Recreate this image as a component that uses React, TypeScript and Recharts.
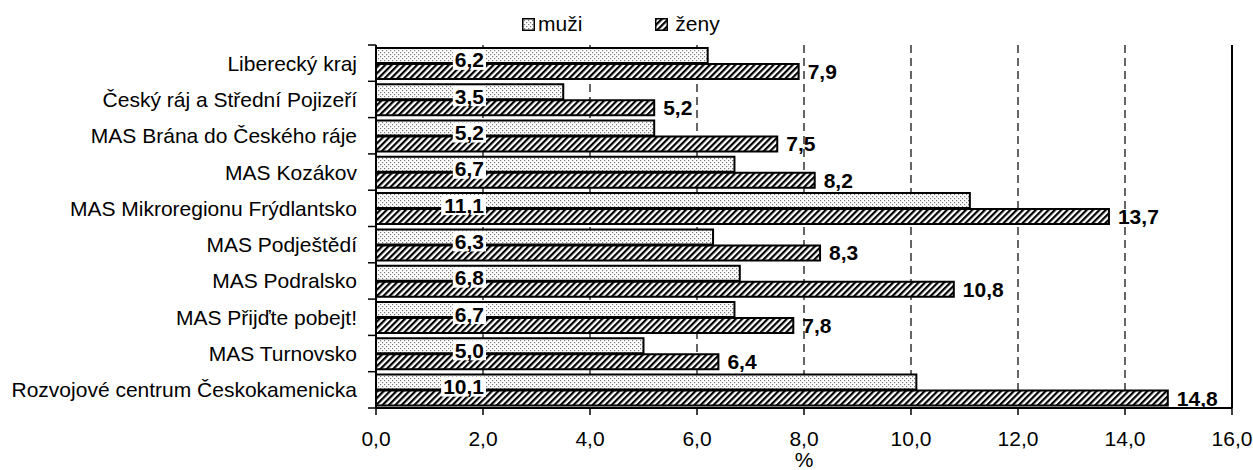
import React from "react";
import {
  BarChart,
  Bar,
  XAxis,
  YAxis,
  CartesianGrid,
  ReferenceLine,
  LabelList,
  Label,
} from "recharts";

const categories = [
  "Liberecký kraj",
  "Český ráj a Střední Pojizeří ",
  "MAS Brána do Českého ráje",
  "MAS Kozákov",
  "MAS Mikroregionu Frýdlantsko",
  "MAS Podještědí",
  "MAS Podralsko",
  "MAS Přijďte pobejt!",
  "MAS Turnovsko",
  "Rozvojové centrum Českokamenicka",
];
const muzi = [6.2, 3.5, 5.2, 6.7, 11.1, 6.3, 6.8, 6.7, 5.0, 10.1];
const zeny = [7.9, 5.2, 7.5, 8.2, 13.7, 8.3, 10.8, 7.8, 6.4, 14.8];
const xTicks = [0, 2, 4, 6, 8, 10, 12, 14, 16];
const seriesNames = ["muži", "ženy"];

const data = categories.map((name, i) => ({ name, muzi: muzi[i], zeny: zeny[i] }));

const FONT = "'Liberation Sans', Arial, sans-serif";
const FS = 21;
const fmt = (v: number) => v.toFixed(1).replace(".", ",");

const CategoryTick = (props: any) => {
  const { x, y, payload, index, visibleTicksCount } = props;
  const off = payload && payload.offset ? payload.offset : 0;
  const isLast = index === (visibleTicksCount ?? categories.length) - 1;
  return (
    <g>
      <line x1={x + 11} x2={x + 19} y1={y - off} y2={y - off} stroke="#000" strokeWidth={1.5} />
      {isLast && (
        <line x1={x + 11} x2={x + 19} y1={y + off} y2={y + off} stroke="#000" strokeWidth={1.5} />
      )}
      <text
        x={x}
        y={y}
        textAnchor="end"
        dominantBaseline="central"
        fontFamily={FONT}
        fontSize={FS}
        fill="#000"
      >
        {payload.value}
      </text>
    </g>
  );
};

const MuziLabel = (props: any) => {
  const { x, y, height, value } = props;
  const s = fmt(Number(value));
  let em = 0;
  for (const ch of s) em += ch === "," ? 0.278 : 0.556;
  const w = em * FS + 4;
  const right = x + 108;
  const cy = y + height / 2 + 4.5;
  return (
    <g>
      <rect x={right - w + 2} y={cy - 10} width={w} height={20} fill="#fff" />
      <text
        x={right}
        y={cy}
        textAnchor="end"
        dominantBaseline="central"
        fontFamily={FONT}
        fontWeight="bold"
        fontSize={FS}
        fill="#000"
      >
        {s}
      </text>
    </g>
  );
};

const PatternDefs = ({ prefix }: { prefix: string }) => (
  <defs>
    <pattern id={prefix + "dots"} width="4" height="4" patternUnits="userSpaceOnUse">
      <rect width="4" height="4" fill="#fff" />
      <rect x="0" y="0" width="1.2" height="1.2" fill="#7a7a7a" />
      <rect x="2" y="2" width="1.2" height="1.2" fill="#7a7a7a" />
    </pattern>
    <pattern
      id={prefix + "hatch"}
      width="4.5"
      height="4.5"
      patternUnits="userSpaceOnUse"
      patternTransform="rotate(45)"
    >
      <rect width="4.5" height="4.5" fill="#fff" />
      <rect x="0" y="0" width="2.2" height="4.5" fill="#000" />
    </pattern>
  </defs>
);

const LegendBox = () => (
  <div
    style={{
      position: "absolute",
      left: 522,
      top: 12,
      display: "flex",
      alignItems: "center",
      fontFamily: FONT,
      fontSize: FS,
      lineHeight: "24px",
      color: "#000",
    }}
  >
    <svg width={0} height={0} style={{ position: "absolute" }}>
      <PatternDefs prefix="lg-" />
    </svg>
    <svg width={13} height={13} style={{ marginRight: 3 }}>
      <rect x={0.75} y={0.75} width={11.5} height={11.5} fill="url(#lg-dots)" stroke="#000" strokeWidth={1.5} />
    </svg>
    <span style={{ marginRight: 73 }}>{seriesNames[0]}</span>
    <svg width={13} height={13} style={{ marginRight: 7 }}>
      <rect x={0.75} y={0.75} width={11.5} height={11.5} fill="url(#lg-hatch)" stroke="#000" strokeWidth={1.5} />
    </svg>
    <span>{seriesNames[1]}</span>
  </div>
);

export default function App() {
  return (
    <div
      style={{
        position: "fixed",
        left: 0,
        top: 0,
        width: 1253,
        height: 470,
        overflow: "hidden",
        background: "#fff",
      }}
    >
      <div style={{ position: "absolute", left: 8, top: 8 }}>
        <BarChart
          width={1245}
          height={462}
          data={data}
          layout="vertical"
          margin={{ top: 37, right: 21, bottom: 0, left: 8 }}
          barCategoryGap="8%"
          barGap={1}
        >
          <PatternDefs prefix="" />
          <CartesianGrid vertical horizontal={false} stroke="#000" strokeDasharray="8 5" strokeWidth={1.2} />
          <XAxis
            type="number"
            domain={[0, 16]}
            ticks={xTicks}
            tickFormatter={fmt}
            height={62}
            tickSize={7}
            tickMargin={16}
            axisLine={{ stroke: "#000", strokeWidth: 2 }}
            tickLine={{ stroke: "#000", strokeWidth: 1.5 }}
            tick={{ fill: "#000", fontFamily: FONT, fontSize: FS }}
            interval={0}
          >
            <Label
              value="%"
              position="insideBottom"
              offset={3}
              fill="#000"
              fontFamily={FONT}
              fontSize={FS}
            />
          </XAxis>
          <XAxis
            xAxisId="top"
            orientation="top"
            type="number"
            domain={[0, 16]}
            height={0}
            tick={false}
            tickLine={false}
            axisLine={{ stroke: "#000", strokeWidth: 2 }}
          />
          <YAxis
            type="category"
            dataKey="name"
            width={360}
            tickSize={0}
            tickMargin={19}
            axisLine={{ stroke: "#000", strokeWidth: 2 }}
            tickLine={false}
            tick={<CategoryTick />}
            interval={0}
          />
          <ReferenceLine x={16} stroke="#000" strokeWidth={2} />
          <Bar
            dataKey="muzi"
            name={seriesNames[0]}
            fill="url(#dots)"
            stroke="#000"
            strokeWidth={2}
            isAnimationActive={false}
          >
            <LabelList dataKey="muzi" content={<MuziLabel />} />
          </Bar>
          <Bar
            dataKey="zeny"
            name={seriesNames[1]}
            fill="url(#hatch)"
            stroke="#000"
            strokeWidth={2}
            isAnimationActive={false}
          >
            <LabelList
              dataKey="zeny"
              position="right"
              offset={9}
              formatter={(v: any) => fmt(Number(v))}
              fill="#000"
              fontFamily={FONT}
              fontWeight="bold"
              fontSize={FS}
            />
          </Bar>
        </BarChart>
      </div>
      <LegendBox />
    </div>
  );
}
